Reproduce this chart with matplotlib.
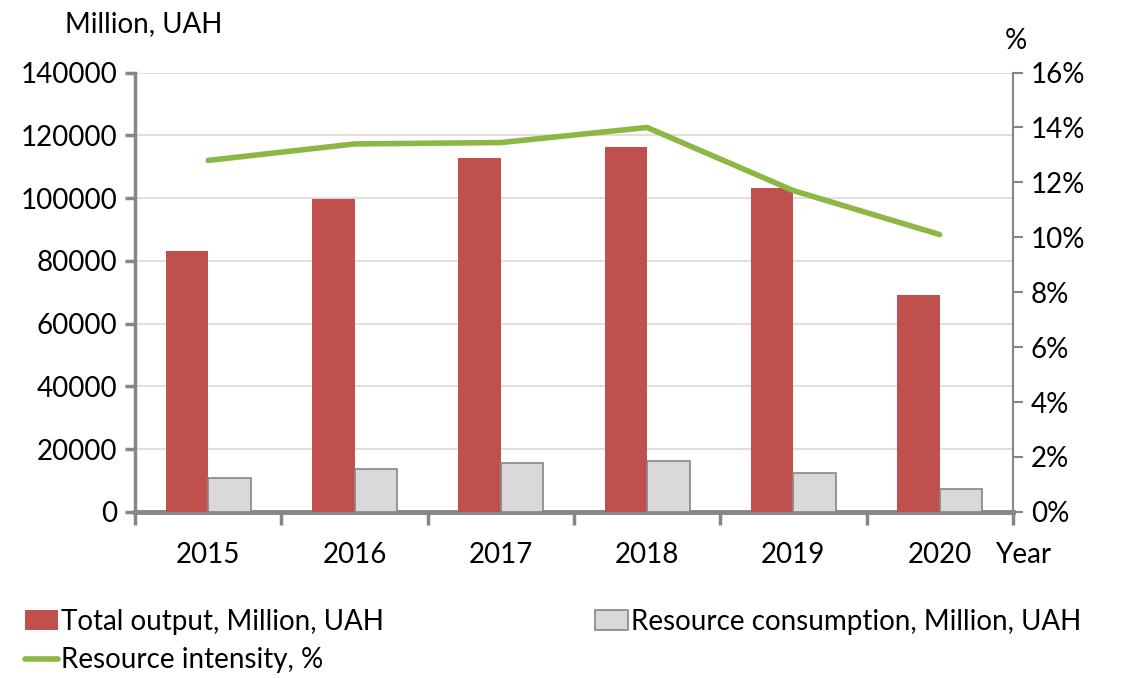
import numpy as np
import matplotlib.pyplot as plt
import matplotlib.ticker as mticker

years = ["2015", "2016", "2017", "2018", "2019", "2020"]
total_output = [83000, 99800, 112800, 116200, 103200, 69200]
resource_consumption = [10700, 13600, 15500, 16200, 12300, 7300]
resource_intensity = [12.8, 13.4, 13.45, 14.0, 11.7, 10.1]

RED = "#c0504d"
GRAY = "#d9d9d9"
GREEN = "#8db744"
AXIS = "#868686"
FS = 20

plt.rcParams["font.family"] = ["Lato", "DejaVu Sans"]

fig = plt.figure(figsize=(11.21, 6.78), dpi=100)
ax = fig.add_axes([0.1205, 0.245, 0.783, 0.648])

x = np.arange(len(years))
w = 0.29
ax.bar(x - w / 2, total_output, w, color=RED, zorder=3, label="Total output, Million, UAH")
ax.bar(x + w / 2, resource_consumption, w, color=GRAY, edgecolor=AXIS, linewidth=1.2,
       zorder=3, label="Resource consumption, Million, UAH")

ax.set_xlim(-0.5, len(years) - 0.5)
ax.set_ylim(0, 140000)
ax.yaxis.set_major_locator(mticker.MultipleLocator(20000))
ax.grid(axis="y", color="#d9d9d9", linewidth=1.2, zorder=0)

ax.set_xticks(x)
ax.set_xticklabels(years)
ax.set_xticks(np.arange(-0.5, len(years)), minor=True)
ax.tick_params(axis="x", which="major", length=0, pad=22, labelsize=FS)
ax.tick_params(axis="x", which="minor", length=9, width=2.5, color=AXIS, direction="out")
ax.tick_params(axis="y", length=7, width=2.5, color=AXIS, labelsize=FS, pad=6)

for s in ["top", "right"]:
    ax.spines[s].set_visible(False)
ax.spines["left"].set_color(AXIS)
ax.spines["left"].set_linewidth(2.5)
ax.spines["bottom"].set_color(AXIS)
ax.spines["bottom"].set_linewidth(3.5)

ax2 = ax.twinx()
ax2.plot(x, resource_intensity, color=GREEN, linewidth=4, solid_capstyle="round",
         label="Resource intensity, %", zorder=4)
ax2.set_ylim(0, 16)
ax2.yaxis.set_major_locator(mticker.MultipleLocator(2))
ax2.yaxis.set_major_formatter(mticker.FuncFormatter(lambda v, p: f"{v:.0f}%"))
ax2.tick_params(axis="y", length=7, width=1.5, color=AXIS, labelsize=FS, pad=6)
for s in ["top", "left", "bottom"]:
    ax2.spines[s].set_visible(False)
ax2.spines["right"].set_color(AXIS)
ax2.spines["right"].set_linewidth(1.5)

fig.text(0.058, 0.965, "Million, UAH", fontsize=FS, ha="left", va="center")
fig.text(0.906, 0.94, "%", fontsize=FS, ha="center", va="center")
fig.text(0.888, 0.182, "Year", fontsize=FS, ha="left", va="center")

h1, l1 = ax.get_legend_handles_labels()
h2, l2 = ax2.get_legend_handles_labels()
fig.legend([h1[0], h2[0], h1[1]], [l1[0], l2[0], l1[1]], ncol=2,
           loc="lower left", bbox_to_anchor=(0.0, -0.03), frameon=False,
           fontsize=FS, handlelength=1.2, handletextpad=0.1, columnspacing=7.6,
           labelspacing=0.45)

fig.savefig("out.png", dpi=100)
